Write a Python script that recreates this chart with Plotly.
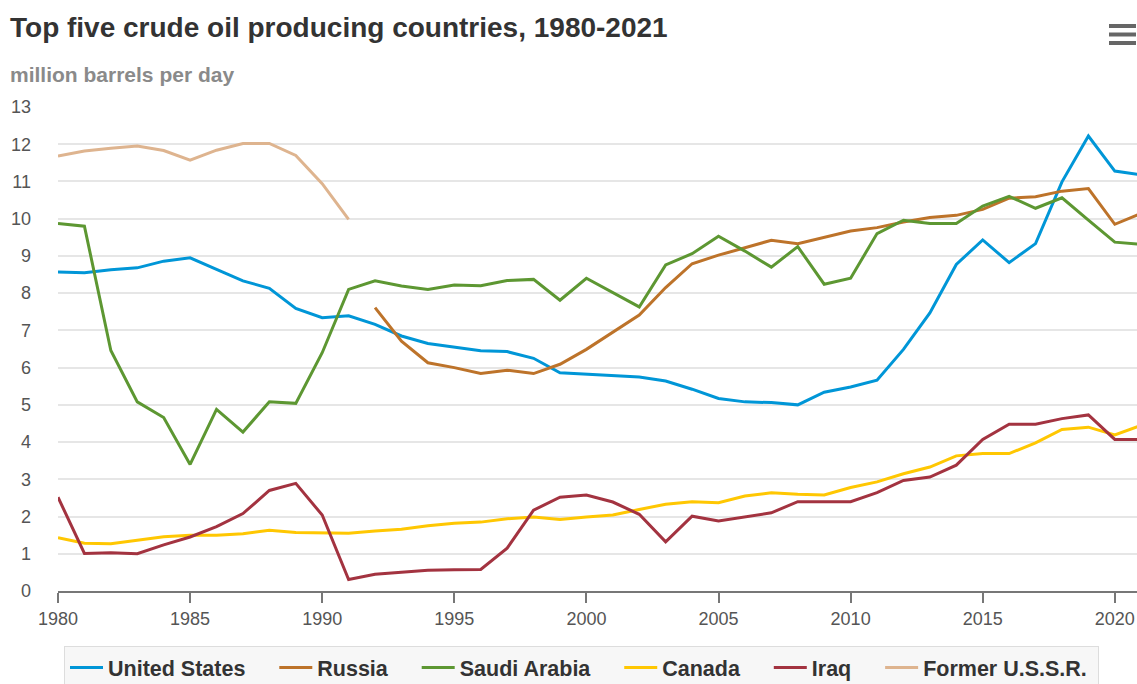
import plotly.graph_objects as go

years = list(range(1980, 2022))
russia_years = list(range(1992, 2022))
ussr_years = list(range(1980, 1992))

united_states = [8.57, 8.55, 8.63, 8.68, 8.86, 8.95, 8.64, 8.33, 8.13, 7.59,
                 7.34, 7.39, 7.16, 6.85, 6.65, 6.55, 6.45, 6.43, 6.25, 5.86,
                 5.82, 5.79, 5.75, 5.64, 5.42, 5.17, 5.08, 5.06, 5.00, 5.34,
                 5.48, 5.66, 6.49, 7.47, 8.77, 9.43, 8.82, 9.33, 10.99, 12.22,
                 11.28, 11.18]
russia = [7.61, 6.71, 6.13, 6.00, 5.84, 5.93, 5.84, 6.09, 6.49, 6.94,
          7.41, 8.15, 8.79, 9.02, 9.22, 9.42, 9.33, 9.49, 9.67, 9.76,
          9.91, 10.03, 10.09, 10.25, 10.55, 10.59, 10.74, 10.81, 9.85, 10.14]
saudi_arabia = [9.87, 9.80, 6.46, 5.08, 4.66, 3.40, 4.88, 4.27, 5.08, 5.04,
                6.40, 8.10, 8.33, 8.19, 8.10, 8.22, 8.20, 8.34, 8.37, 7.81,
                8.40, 8.01, 7.63, 8.76, 9.06, 9.53, 9.13, 8.70, 9.25, 8.24,
                8.40, 9.60, 9.96, 9.87, 9.87, 10.34, 10.60, 10.28, 10.56, 9.96,
                9.37, 9.31]
canada = [1.43, 1.28, 1.27, 1.37, 1.46, 1.50, 1.50, 1.54, 1.63, 1.57,
          1.55, 1.55, 1.61, 1.66, 1.75, 1.82, 1.85, 1.94, 1.99, 1.92,
          1.99, 2.04, 2.19, 2.33, 2.40, 2.37, 2.55, 2.64, 2.60, 2.58,
          2.78, 2.93, 3.15, 3.33, 3.63, 3.69, 3.69, 3.98, 4.34, 4.40,
          4.19, 4.45]
iraq = [2.52, 1.01, 1.03, 1.00, 1.24, 1.45, 1.73, 2.08, 2.70, 2.89,
        2.04, 0.31, 0.45, 0.51, 0.56, 0.57, 0.58, 1.15, 2.17, 2.52,
        2.58, 2.39, 2.06, 1.32, 2.01, 1.88, 1.99, 2.10, 2.40, 2.40,
        2.40, 2.64, 2.97, 3.06, 3.38, 4.07, 4.48, 4.48, 4.63, 4.73,
        4.07, 4.07]
former_ussr = [11.68, 11.82, 11.89, 11.95, 11.83, 11.57, 11.84, 12.02, 12.02, 11.70,
               10.94, 9.98]

series = [
    ("United States", years, united_states, "#0096d7"),
    ("Russia", russia_years, russia, "#bd732a"),
    ("Saudi Arabia", years, saudi_arabia, "#5d9732"),
    ("Canada", years, canada, "#ffc702"),
    ("Iraq", years, iraq, "#a33340"),
    ("Former U.S.S.R.", ussr_years, former_ussr, "#deb48f"),
]

fig = go.Figure()
for i, (name, x, y, color) in enumerate(series):
    # trailing nbsp widens legend entries like the original
    pad = "\u00a0" * (4 if i < len(series) - 1 else 1)
    fig.add_trace(go.Scatter(x=x, y=y, mode="lines", name=name + pad,
                             line=dict(color=color, width=3)))

font = "Liberation Sans, Arial, sans-serif"

fig.update_layout(
    width=1137, height=684,
    margin=dict(l=58, r=0, t=107, b=93, autoexpand=False),
    paper_bgcolor="white", plot_bgcolor="white",
    font=dict(family=font, color="#555555"),
    title=dict(text="Top five crude oil producing countries, 1980-2021",
               xref="container", x=10 / 1137, xanchor="left",
               yref="container", y=1 - 27 / 684, yanchor="middle",
               font=dict(size=28, color="#333333", weight="bold")),
    showlegend=True,
    legend=dict(orientation="h", x=(64 - 58) / 1079, xanchor="left", y=(591 - 646) / 484, yanchor="top",
                bgcolor="#f7f7f7", bordercolor="#dddddd", borderwidth=1,
                font=dict(size=21.5, color="#333333", weight="bold"),
                itemwidth=33, tracegroupgap=0),
)

fig.add_annotation(text="million barrels per day", xref="paper", yref="paper",
                   x=(8 - 58) / 1079, y=(591 - 74) / 484, xanchor="left", yanchor="middle",
                   showarrow=False, font=dict(size=21, color="#8a8a8a", weight="bold"))

# menu icon
for py in (26, 34.5, 43):
    fig.add_shape(type="line", xref="paper", yref="paper",
                  x0=(1109 - 58) / 1079, x1=(1136 - 58) / 1079,
                  y0=(591 - py) / 484, y1=(591 - py) / 484,
                  line=dict(color="#666666", width=4))

fig.update_xaxes(range=[1980, 2020.84], tickvals=list(range(1980, 2021, 5)),
                 showgrid=False, zeroline=False,
                 showline=True, linecolor="#777777", linewidth=2,
                 ticks="outside", ticklen=10, tickwidth=2, tickcolor="#777777",
                 tickfont=dict(size=18, color="#555555"))
fig.update_yaxes(range=[0, 13], dtick=1, showgrid=True, gridcolor="#e6e6e6", gridwidth=2,
                 zeroline=False, showline=False, ticks="", ticklabelstandoff=26,
                 tickfont=dict(size=18, color="#555555"))

fig.write_html("out.html", config={"displayModeBar": False},
               post_script="document.body.style.margin='0';")
